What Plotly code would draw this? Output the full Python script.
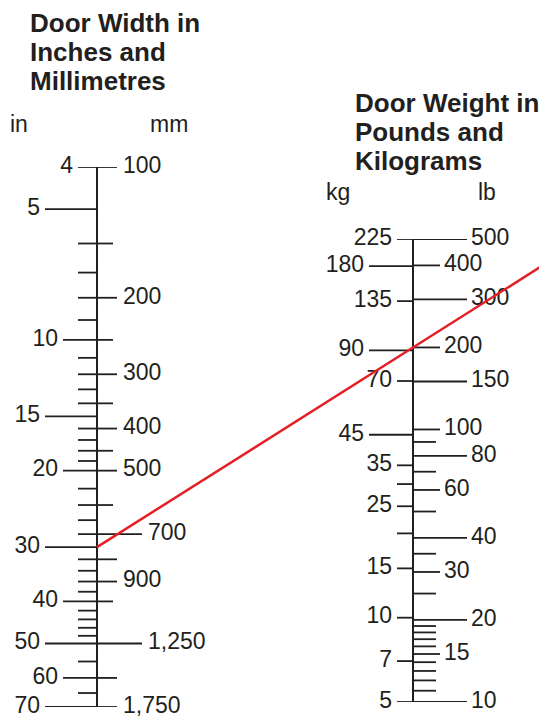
import math
import plotly.graph_objects as go

# ---------------- data ----------------
WIDTH_IN_LABELED = [4, 5, 10, 15, 20, 30, 40, 50, 60, 70]
WIDTH_IN_MINOR = [6, 7, 8, 9, 11, 12, 13, 14, 16, 17, 18, 19, 22, 24, 26, 28,
                  32, 34, 36, 38, 42, 44, 46, 48, 55, 65]
WIDTH_IN_LONG = [5, 15, 30, 50, 70]
WIDTH_IN_MID = [10, 20, 40, 60]

WIDTH_MM_LABELED = [100, 200, 300, 400, 500, 700, 900, 1250, 1750]
WIDTH_MM_TEXT = ["100", "200", "300", "400", "500", "700", "900", "1,250", "1,750"]
WIDTH_MM_UNLABELED = [800, 1500]
WIDTH_MM_MINOR = [150, 250, 350, 450, 600, 1000]
WIDTH_MM_LONG = [700, 1250]

WEIGHT_KG_LABELED = [225, 180, 135, 90, 70, 45, 35, 25, 15, 10, 7, 5]
WEIGHT_KG_MINOR = [30, 20]
WEIGHT_KG_LONG = [180, 90, 45]

WEIGHT_LB_LABELED = [500, 400, 300, 200, 150, 100, 80, 60, 40, 30, 20, 15, 10]
WEIGHT_LB_MINOR = [90, 70, 50, 35, 25, 19, 18, 17, 16, 14, 13, 12, 11]
WEIGHT_LB_LONG = [500, 300, 150, 80, 40, 20, 10]

EXAMPLE_WIDTH_IN = 30
EXAMPLE_WEIGHT_LB = 200

# ---------------- layout constants ----------------
W, H = 547, 723
OFF = 8                      # page body margin
FW, FH = W - OFF, H - OFF    # figure size
INK = "#231f20"
RED = "#e41f26"
FONT = "Liberation Sans, Arial, sans-serif"
LBL = 23
TITLE = 26
CLEAR = "rgba(0,0,0,0)"
EPS = 1e-6

def pfrac(px):
    return (FH - (px - OFF)) / FH

LEFT_DOM = [pfrac(707), pfrac(167)]
RIGHT_DOM = [pfrac(702), pfrac(239)]
AX_L = 97
AX_R = 413

fig = go.Figure()

def ticks(vals, x0, x1, yaxis, width=1.8):
    xs, ys = [], []
    for v in vals:
        xs += [x0, x1, None]
        ys += [v, v, None]
    fig.add_trace(go.Scatter(x=xs, y=ys, yaxis=yaxis, mode="lines",
                             line=dict(color=INK, width=width), cliponaxis=False,
                             hoverinfo="skip", showlegend=False))

def labels(vals, texts, x, pos, yaxis):
    fig.add_trace(go.Scatter(x=[x] * len(vals), y=vals, text=texts, yaxis=yaxis,
                             mode="text", textposition=pos, cliponaxis=False,
                             textfont=dict(family=FONT, size=LBL, color=INK),
                             hoverinfo="skip", showlegend=False))

# ---- left nomogram: inches (y) and millimetres (y2)
fig.add_trace(go.Scatter(x=[AX_L, AX_L], y=[min(WIDTH_IN_LABELED), max(WIDTH_IN_LABELED)],
                         yaxis="y", mode="lines", line=dict(color=INK, width=2), cliponaxis=False,
                         hoverinfo="skip", showlegend=False))
in_short = [v for v in WIDTH_IN_LABELED if v not in WIDTH_IN_LONG + WIDTH_IN_MID] + WIDTH_IN_MINOR
ticks(WIDTH_IN_LONG, 45, AX_L, "y")
ticks(WIDTH_IN_MID, 63, AX_L, "y")
ticks(in_short, 78, AX_L, "y")
for v in WIDTH_IN_LABELED:
    start = 45 if v in WIDTH_IN_LONG else 63 if v in WIDTH_IN_MID else 78
    labels([v], [str(v)], start - 5, "middle left", "y")

ticks(WIDTH_MM_LONG, AX_L, 142, "y2")
ticks([v for v in WIDTH_MM_LABELED if v not in WIDTH_MM_LONG] + WIDTH_MM_UNLABELED, AX_L, 117, "y2")
ticks(WIDTH_MM_MINOR, AX_L, 113, "y2")
for v, t in zip(WIDTH_MM_LABELED, WIDTH_MM_TEXT):
    end = 142 if v in WIDTH_MM_LONG else 117
    labels([v], [t], end + 6, "middle right", "y2")

# ---- right nomogram: kilograms (y3) and pounds (y4)
fig.add_trace(go.Scatter(x=[AX_R, AX_R], y=[min(WEIGHT_KG_LABELED), max(WEIGHT_KG_LABELED)],
                         yaxis="y3", mode="lines", line=dict(color=INK, width=2), cliponaxis=False,
                         hoverinfo="skip", showlegend=False))
ticks(WEIGHT_KG_LONG, 369, AX_R, "y3")
ticks([v for v in WEIGHT_KG_LABELED if v not in WEIGHT_KG_LONG] + WEIGHT_KG_MINOR, 397, AX_R, "y3")
for v in WEIGHT_KG_LABELED:
    start = 369 if v in WEIGHT_KG_LONG else 397
    labels([v], [str(v)], start - 5, "middle left", "y3")

ticks(WEIGHT_LB_LONG, AX_R, 467, "y4")
ticks([v for v in WEIGHT_LB_LABELED if v not in WEIGHT_LB_LONG], AX_R, 440, "y4")
ticks(WEIGHT_LB_MINOR, AX_R, 436, "y4")
for v in WEIGHT_LB_LABELED:
    end = 467 if v in WEIGHT_LB_LONG else 440
    labels([v], [str(v)], end + 4, "middle right", "y4")

# ---- example reading line (30 in -> 200 lb), extended to the right edge
def to_paper(v, lo, hi, dom):
    f = (math.log10(v) - math.log10(lo)) / (math.log10(hi) - math.log10(lo))
    return dom[0] + f * (dom[1] - dom[0])

# left scale increases downward (reversed)
y_a = to_paper(EXAMPLE_WIDTH_IN, max(WIDTH_IN_LABELED), min(WIDTH_IN_LABELED), LEFT_DOM)
y_b = to_paper(EXAMPLE_WEIGHT_LB, min(WEIGHT_LB_LABELED), max(WEIGHT_LB_LABELED), RIGHT_DOM)
slope = (y_b - y_a) / (AX_R - AX_L)
y_end = y_a + slope * (W - AX_L)
fig.add_shape(type="line", xref="x", yref="paper", x0=AX_L, y0=y_a, x1=W, y1=y_end,
              line=dict(color=RED, width=2.5))

# ---- titles and unit headings
def ann(text, x, ypx, size, bold=False):
    fig.add_annotation(text=f"<b>{text}</b>" if bold else text, xref="paper", yref="paper",
                       x=(x - OFF) / FW, y=pfrac(ypx), xanchor="left", yanchor="middle",
                       showarrow=False, font=dict(family=FONT, size=size, color=INK))

for i, line in enumerate(["Door Width in", "Inches and", "Millimetres"]):
    ann(line, 28, 23 + 29 * i, TITLE, bold=True)
for i, line in enumerate(["Door Weight in", "Pounds and", "Kilograms"]):
    ann(line, 353, 103 + 29 * i, TITLE, bold=True)
ann("in", 8, 124, LBL)
ann("mm", 148, 124, LBL)
ann("kg", 324, 192, LBL)
ann("lb", 476, 192, LBL)

def lrange(lo, hi):
    # tiny padding keeps the end labels from being dropped by rounding
    a, b = math.log10(lo), math.log10(hi)
    return [a - EPS, b + EPS] if a < b else [a + EPS, b - EPS]

fig.update_layout(
    width=FW, height=FH,
    margin=dict(l=0, r=0, t=0, b=0),
    paper_bgcolor="white", plot_bgcolor=CLEAR,
    xaxis=dict(range=[OFF, W], domain=[0, 1], visible=False, fixedrange=True),
    yaxis=dict(type="log", range=lrange(max(WIDTH_IN_LABELED), min(WIDTH_IN_LABELED)),
               domain=LEFT_DOM, visible=False, fixedrange=True),
    yaxis2=dict(type="log", range=lrange(max(WIDTH_MM_LABELED), min(WIDTH_MM_LABELED)),
                overlaying="y", visible=False, fixedrange=True),
    yaxis3=dict(type="log", range=lrange(min(WEIGHT_KG_LABELED), max(WEIGHT_KG_LABELED)),
                domain=RIGHT_DOM, anchor="x", visible=False, fixedrange=True),
    yaxis4=dict(type="log", range=lrange(min(WEIGHT_LB_LABELED), max(WEIGHT_LB_LABELED)),
                overlaying="y3", visible=False, fixedrange=True),
    showlegend=False,
)

fig.write_html("out.html")
